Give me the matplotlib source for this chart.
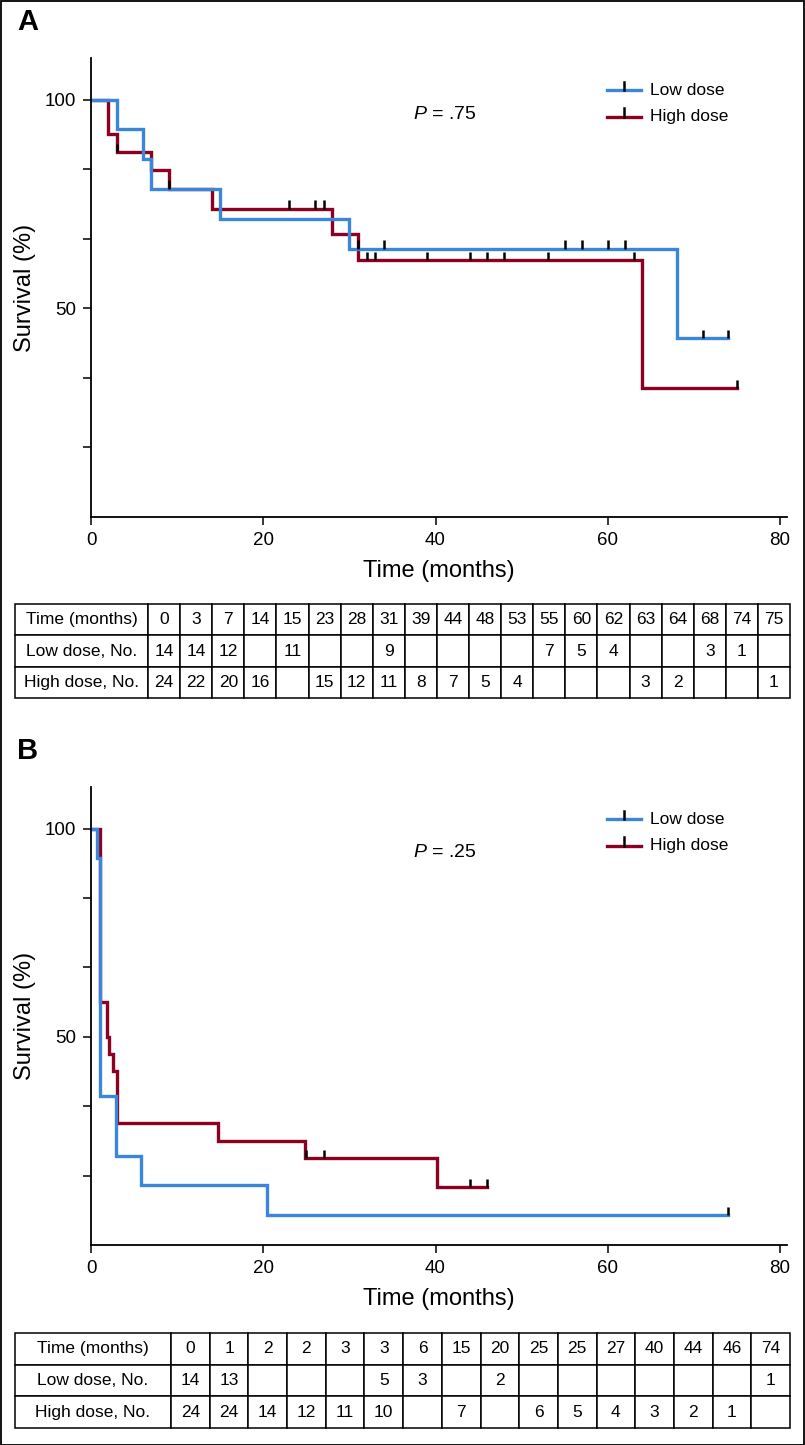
import numpy as np
import matplotlib.pyplot as plt
from matplotlib import font_manager
from matplotlib.patches import Rectangle
from matplotlib.lines import Line2D

# ---- data, panel A (overall survival) ----
a_low_t = [0, 3, 6, 7, 15, 30, 68]
a_low_s = [100, 92.9, 85.7, 78.6, 71.4, 64.3, 42.9]
a_low_end = 74
a_low_cens = [31, 34, 55, 57, 60, 62, 71, 74]

a_high_t = [0, 2, 3, 7, 9, 14, 28, 31, 64]
a_high_s = [100, 91.7, 87.5, 83.1, 78.7, 73.9, 67.8, 61.6, 30.8]
a_high_end = 75
a_high_cens = [3, 9, 23, 26, 27, 32, 33, 39, 44, 46, 48, 53, 63, 75]

# ---- data, panel B ----
b_low_t = [0, 0.7, 1.0, 2.9, 5.8, 20.4]
b_low_s = [100, 92.9, 35.7, 21.4, 14.3, 7.1]
b_low_end = 74
b_low_cens = [74]

b_high_t = [0, 1.0, 1.8, 2.1, 2.5, 3.05, 14.8, 24.9, 40.2]
b_high_s = [100, 58.3, 50.0, 45.8, 41.7, 29.2, 25.0, 20.8, 13.9]
b_high_end = 46
b_high_cens = [25, 27, 44, 46]

# ---- number at risk tables ----
a_times = ['0', '3', '7', '14', '15', '23', '28', '31', '39', '44', '48', '53',
           '55', '60', '62', '63', '64', '68', '74', '75']
a_low_n = ['14', '14', '12', '', '11', '', '', '9', '', '', '', '',
           '7', '5', '4', '', '', '3', '1', '']
a_high_n = ['24', '22', '20', '16', '', '15', '12', '11', '8', '7', '5', '4',
            '', '', '', '3', '2', '', '', '1']

b_times = ['0', '1', '2', '2', '3', '3', '6', '15', '20', '25', '25', '27',
           '40', '44', '46', '74']
b_low_n = ['14', '13', '', '', '', '5', '3', '', '2', '', '', '', '', '', '', '1']
b_high_n = ['24', '24', '14', '12', '11', '10', '', '7', '', '6', '5', '4',
            '3', '2', '1', '']

p_values = ['.75', '.25']
BLUE = '#3a87da'
RED = '#8c0022'

names = {f.name for f in font_manager.fontManager.ttflist}
NARROW = 'Liberation Sans Narrow' if 'Liberation Sans Narrow' in names else 'Liberation Sans'
REG = 'Liberation Sans'
plt.rcParams['font.family'] = [REG, 'DejaVu Sans']
plt.rcParams['mathtext.fontset'] = 'custom'
plt.rcParams['mathtext.it'] = NARROW + ':italic'
plt.rcParams['mathtext.rm'] = NARROW

W, H = 805, 1445
fig = plt.figure(figsize=(W / 100, H / 100), dpi=100)


def px_axes(left, top, right, bottom):
    return fig.add_axes([left / W, 1 - bottom / H, (right - left) / W, (bottom - top) / H])


def level_at(t, times, surv):
    i = np.searchsorted(times, t, side='right') - 1
    return surv[i]


def km_panel(ax, low, high, pval, py):
    for (t, s, end, cens, col) in [high, low]:
        xs = list(t) + [end]
        ys = list(s) + [s[-1]]
        ax.step(xs, ys, where='post', color=col, lw=2.4, solid_joinstyle='miter', zorder=2)
        cy = [level_at(c, t, s) for c in cens]
        ax.vlines(cens, cy, np.array(cy) + 2.0, color='black', lw=1.8, zorder=3)
    ax.set_xlim(0, 80.8)
    ax.set_ylim(0, 110)
    ax.spines[['top', 'right']].set_visible(False)
    ax.spines[['left', 'bottom']].set_linewidth(1.3)
    ax.set_xticks([0, 20, 40, 60, 80])
    ax.set_yticks([100 / 6 * k for k in range(1, 7)])
    ax.set_yticklabels(['', '', '50', '', '', '100'])
    ax.tick_params(direction='out', length=6, width=1.1, labelsize=13.5, pad=5)
    ax.set_xlabel('Time (months)', family=NARROW, fontsize=17, labelpad=8)
    ax.set_ylabel('Survival (%)', family=NARROW, fontsize=17, labelpad=6)
    ax.text(0.462, py, r'$P$ = ' + pval,
            transform=ax.transAxes, family=NARROW, fontsize=14, va='center')
    # legend
    for yy, col, lab in [(0.93, BLUE, 'Low dose'), (0.872, RED, 'High dose')]:
        ax.add_line(Line2D([0.741, 0.790], [yy, yy], color=col, lw=2.4,
                           transform=ax.transAxes, clip_on=False))
        ax.add_line(Line2D([0.766, 0.766], [yy, yy + 0.018], color='black', lw=1.8,
                           transform=ax.transAxes, clip_on=False))
        ax.text(0.803, yy, lab, transform=ax.transAxes, fontsize=12.5, va='center')


def risk_table(ax, times, low, high, first_w):
    rows = [['Time (months)'] + times, ['Low dose, No.'] + low, ['High dose, No.'] + high]
    n = len(times)
    widths = [first_w] + [(1 - first_w) / n] * n
    tb = ax.table(cellText=rows, colWidths=widths, bbox=[0, 0, 1, 1], cellLoc='center')
    tb.auto_set_font_size(False)
    for (r, c), cell in tb.get_celld().items():
        cell.set_linewidth(1.1)
        cell.set_edgecolor('black')
        cell.get_text().set_fontsize(12.5)
        cell.get_text().set_family(NARROW)
    ax.axis('off')


axA = px_axes(91, 58, 787, 517)
km_panel(axA,
         (a_low_t, a_low_s, a_low_end, a_low_cens, BLUE),
         (a_high_t, a_high_s, a_high_end, a_high_cens, RED), p_values[0], 0.876)

axB = px_axes(91, 787, 787, 1245)
km_panel(axB,
         (b_low_t, b_low_s, b_low_end, b_low_cens, BLUE),
         (b_high_t, b_high_s, b_high_end, b_high_cens, RED), p_values[1], 0.856)

tA = px_axes(15, 604, 790, 698)
risk_table(tA, a_times, a_low_n, a_high_n, 133 / 775)
tB = px_axes(15, 1333, 790, 1428)
risk_table(tB, b_times, b_low_n, b_high_n, 156 / 775)

fig.text(17 / W, 1 - 22 / H, 'A', fontsize=21, fontweight='bold', va='center', ha='left')
fig.text(17 / W, 1 - 751 / H, 'B', fontsize=21, fontweight='bold', va='center', ha='left')

fig.patches.append(Rectangle((0.5 / W, 0.5 / H), 1 - 1.5 / W, 1 - 1.5 / H,
                             transform=fig.transFigure, fill=False,
                             edgecolor='black', lw=1.3))

fig.savefig('out.png', dpi=100)
